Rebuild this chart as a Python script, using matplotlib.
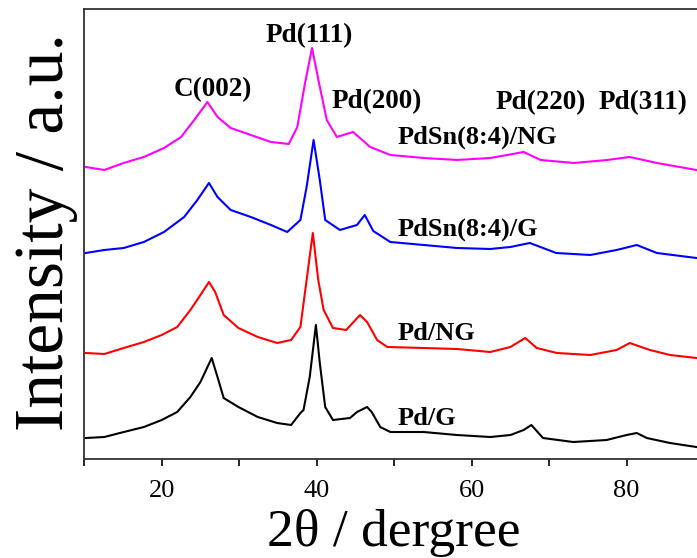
import matplotlib
matplotlib.use("Agg")
import matplotlib.pyplot as plt
from matplotlib.ticker import MultipleLocator

# XRD patterns (2theta in degrees, intensity in a.u. with stacking offsets)
tt_pdg = [10.2, 12.6, 15.1, 17.7, 20.0, 22.0, 23.7, 25.0, 26.45, 27.2, 28.0, 29.9,
          32.4, 34.9, 36.7, 37.9, 38.3, 39.1, 39.9, 40.4, 41.1, 42.1, 44.3, 45.2,
          46.5, 47.1, 48.2, 49.5, 53.8, 58.1, 62.4, 65.0, 66.7, 67.7, 69.2, 73.1,
          77.4, 80.0, 81.3, 82.6, 85.6, 89.0]
int_pdg = [21, 22, 27, 32, 39, 47, 62, 77, 101, 82, 61, 52,
           42, 36, 34, 46, 49, 82, 134, 96, 52, 39, 41, 47,
           52, 47, 32, 27, 27, 24, 22, 24, 29, 34, 21, 17,
           19, 24, 26, 21, 16, 12]

tt_pdng = [10.2, 12.6, 15.1, 17.7, 20.0, 22.0, 23.7, 25.0, 26.1, 26.9, 28.0, 29.9,
           32.4, 34.9, 36.7, 37.9, 38.7, 39.5, 40.2, 40.9, 42.1, 43.8, 45.6, 46.5,
           47.8, 49.1, 53.8, 58.1, 62.4, 65.0, 66.9, 68.4, 71.0, 75.3, 78.7, 80.4,
           83.0, 85.6, 89.0]
int_pdng = [106, 105, 111, 117, 124, 132, 149, 164, 177, 167, 144, 131,
            122, 116, 119, 132, 179, 226, 179, 149, 131, 129, 144, 137,
            119, 112, 111, 110, 107, 112, 121, 111, 106, 104, 109, 116,
            109, 104, 101]

tt_pdsng = [10.2, 12.6, 15.1, 17.7, 20.3, 22.9, 24.6, 26.1, 27.2, 28.9, 31.5, 34.1,
            36.2, 37.9, 38.7, 39.6, 40.4, 41.1, 43.0, 45.2, 46.2, 47.3, 49.5, 53.8,
            58.1, 62.4, 65.0, 67.5, 70.9, 75.3, 78.7, 81.3, 83.9, 89.0]
int_pdsng = [206, 209, 211, 217, 227, 242, 259, 276, 262, 249, 242, 234,
             227, 239, 272, 319, 279, 239, 229, 234, 244, 228, 217, 214,
             211, 210, 212, 216, 206, 204, 209, 214, 206, 201]

tt_pdsnng = [10.2, 12.6, 15.1, 17.7, 20.3, 22.5, 24.2, 25.9, 27.2, 28.9, 31.5, 34.1,
             36.4, 37.5, 38.5, 39.4, 40.3, 41.3, 42.6, 44.7, 46.9, 49.5, 53.8, 58.1,
             62.4, 64.6, 66.7, 68.9, 73.2, 77.5, 80.4, 83.9, 89.0]
int_pdsnng = [292, 289, 296, 302, 311, 322, 339, 357, 342, 331, 324, 317,
              315, 332, 376, 411, 376, 339, 322, 327, 312, 304, 301, 299,
              301, 304, 307, 299, 296, 299, 302, 296, 289]

series = [
    (tt_pdg, int_pdg, "black"),
    (tt_pdng, int_pdng, "#ff0000"),
    (tt_pdsng, int_pdsng, "#0000ff"),
    (tt_pdsnng, int_pdsnng, "#ff00ff"),
]

peak_labels = ["Pd(111)", "C(002)", "Pd(200)", "Pd(220)", "Pd(311)"]
peak_pos = [(39.0, 423), (26.6, 369), (47.8, 357), (68.9, 356), (82.1, 356)]

sample_labels = ["PdSn(8:4)/NG", "PdSn(8:4)/G", "Pd/NG", "Pd/G"]
sample_y = [322, 230, 125, 41]

plt.rcParams['font.family'] = ['Liberation Serif', 'DejaVu Serif']

fig = plt.figure(figsize=(6.97, 5.58), dpi=100)
ax = fig.add_axes([0.1208, 0.1774, 0.8895, 0.806])

for x, y, c in series:
    ax.plot(x, y, color=c, lw=1.5)

for lab, (px, py) in zip(peak_labels, peak_pos):
    ax.text(px, py, lab, ha="center", va="center", fontsize=19.5, fontweight="bold")
for lab, py in zip(sample_labels, sample_y):
    ax.text(50.4, py, lab, ha="left", va="center", fontsize=19, fontweight="bold")

ax.set_xlim(10, 90)
ax.set_ylim(0, 449.7)
ax.xaxis.set_major_locator(MultipleLocator(20))
ax.xaxis.set_minor_locator(MultipleLocator(10))
ax.tick_params(axis="x", which="major", direction="out", length=5, width=1.2,
               labelsize=19, pad=10)
ax.tick_params(axis="x", which="minor", direction="out", length=5, width=1.2)
ax.set_yticks([])
for s in ax.spines.values():
    s.set_linewidth(1.3)
    s.set_color("#333333")

ax.set_xlabel("2θ / dergree", fontsize=38.5, labelpad=5)
ax.set_ylabel("Intensity / a.u.", fontsize=50, va="center")
ax.yaxis.set_label_coords(-0.062, 0.505)

fig.savefig("out.png", dpi=100)
